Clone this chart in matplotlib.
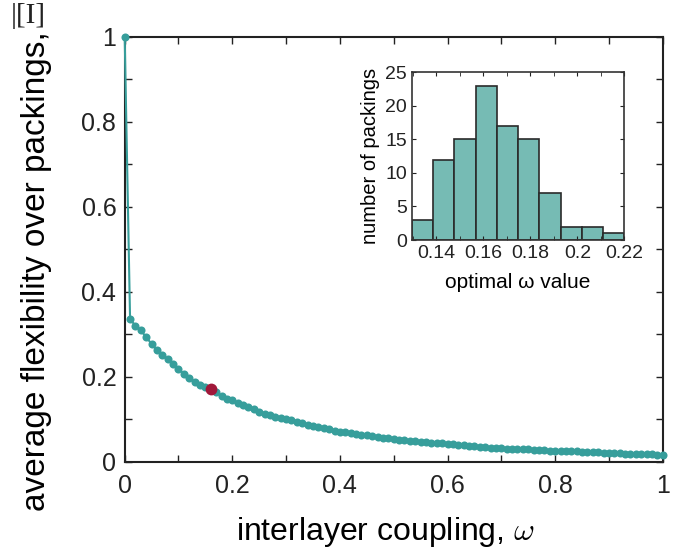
import matplotlib
matplotlib.use("Agg")
import matplotlib.pyplot as plt
import numpy as np

plt.rcParams['font.family'] = ['Liberation Sans', 'DejaVu Sans']
plt.rcParams['mathtext.fontset'] = 'cm'

# main curve: average flexibility vs interlayer coupling
omega = [round(0.01 * i, 2) for i in range(101)]
flex = [1.0, 0.335, 0.320, 0.309, 0.293, 0.277, 0.262, 0.250, 0.241, 0.229,
        0.218, 0.207, 0.197, 0.188, 0.180, 0.176, 0.170, 0.163, 0.155, 0.148,
        0.144, 0.138, 0.133, 0.128, 0.123, 0.118, 0.113, 0.109, 0.106, 0.103,
        0.101, 0.097, 0.093, 0.090, 0.087, 0.084, 0.081, 0.079, 0.076, 0.073,
        0.071, 0.069, 0.067, 0.065, 0.063, 0.062, 0.060, 0.058, 0.056, 0.055,
        0.053, 0.052, 0.051, 0.049, 0.048, 0.047, 0.046, 0.045, 0.044, 0.043,
        0.042, 0.041, 0.040, 0.039, 0.038, 0.037, 0.035, 0.034, 0.033, 0.032,
        0.0315, 0.031, 0.030, 0.030, 0.029, 0.029, 0.028, 0.028, 0.027, 0.026,
        0.026, 0.025, 0.025, 0.024, 0.024, 0.023, 0.023, 0.022, 0.022, 0.021,
        0.021, 0.020, 0.020, 0.019, 0.019, 0.018, 0.018, 0.017, 0.017, 0.016,
        0.016]
best_omega = 0.16
best_flex = 0.170

# inset histogram of optimal omega
bin_edges = [0.1295, 0.13855, 0.1476, 0.15665, 0.1657, 0.17475,
             0.1838, 0.19285, 0.2019, 0.21095, 0.22]
counts = [3, 12, 15, 23, 17, 15, 7, 2, 2, 1]

teal = "#379e9b"
fig = plt.figure(figsize=(6.84, 5.52), dpi=100)
ax = fig.add_axes([0.1823, 0.1636, 0.7866, 0.7699])
ax.plot(omega, flex, "-", color=teal, lw=1.5, marker="o", ms=5.8,
        markeredgewidth=0, clip_on=False, zorder=3)
ax.plot([best_omega], [best_flex], "o", color="#a0183a", ms=8.5,
        markeredgewidth=0, zorder=4)
ax.set_xlim(0, 1)
ax.set_ylim(0, 1)
ax.set_xticks([0, 0.2, 0.4, 0.6, 0.8, 1])
ax.set_xticklabels(["0", "0.2", "0.4", "0.6", "0.8", "1"])
ax.set_yticks([0, 0.2, 0.4, 0.6, 0.8, 1])
ax.set_yticklabels(["0", "0.2", "0.4", "0.6", "0.8", "1"])
ax.set_xticks(np.arange(0.1, 1, 0.2), minor=True)
ax.set_yticks(np.arange(0.1, 1, 0.2), minor=True)
ax.tick_params(which="both", direction="in", top=True, right=True,
               labelsize=18, colors="#222222", width=1)
ax.tick_params(which="major", length=5)
ax.tick_params(axis="x", which="major", pad=9)
ax.tick_params(axis="y", which="major", pad=6)
ax.tick_params(which="minor", length=5)
for s in ax.spines.values():
    s.set_linewidth(1.5)
    s.set_color("#222222")
ax.set_xlabel(r"interlayer coupling, $\omega$", fontsize=23, labelpad=11)
ax.xaxis.set_label_coords(0.484, -0.125)
ax.set_ylabel("average flexibility over packings,", fontsize=24)
ax.yaxis.set_label_coords(-0.135, 0.449)
fig.text(0.016, 0.995, "|[I]", fontsize=21, family="Liberation Serif",
         ha="left", va="top", color="#222222")

# inset
ins = fig.add_axes([0.602, 0.5652, 0.3108, 0.3038])
widths = [bin_edges[i + 1] - bin_edges[i] for i in range(len(counts))]
ins.bar(bin_edges[:-1], counts, width=widths, align="edge", color="#76bbb4",
        edgecolor="#2a2a2a", linewidth=1.2)
ins.set_xlim(bin_edges[0], bin_edges[-1])
ins.set_ylim(0, 25)
ins.set_xticks([0.14, 0.16, 0.18, 0.2, 0.22])
ins.set_xticklabels(["0.14", "0.16", "0.18", "0.2", "0.22"])
ins.set_xticks(np.arange(0.13, 0.225, 0.01), minor=True)
ins.set_yticks([0, 5, 10, 15, 20, 25])
ins.tick_params(which="both", direction="in", top=True, right=True,
                labelsize=14, colors="#222222", length=3)
for s in ins.spines.values():
    s.set_linewidth(1.2)
    s.set_color("#333333")
ins.set_xlabel("optimal ω value", fontsize=15, labelpad=8)
ins.set_ylabel("number of packings", fontsize=14.5, labelpad=4)

fig.savefig("out.png", dpi=100)
